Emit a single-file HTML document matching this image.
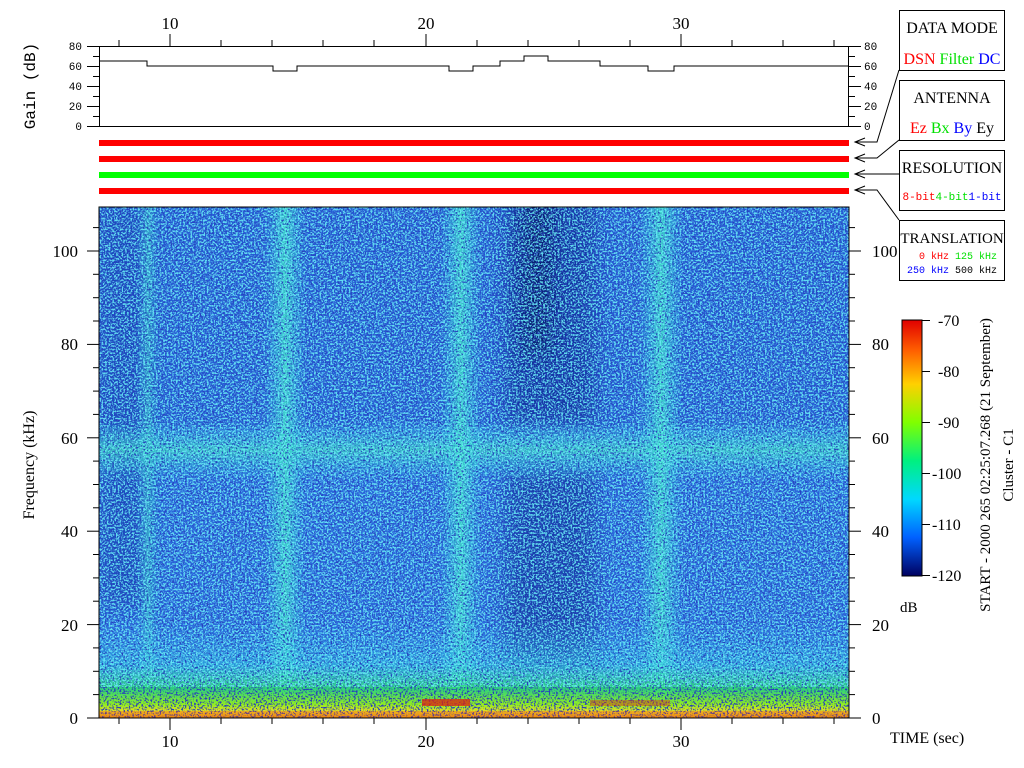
<!DOCTYPE html>
<html><head><meta charset="utf-8"><style>
html,body{margin:0;padding:0;background:#fff;width:1024px;height:768px;overflow:hidden}
svg{display:block}
text{font-family:"Liberation Serif",serif;fill:#000}
.m{font-family:"Liberation Mono",monospace}
</style></head><body>
<svg width="1024" height="768" viewBox="0 0 1024 768" xmlns="http://www.w3.org/2000/svg">
<defs>
<filter id="dk" x="0" y="0" width="100%" height="100%">
<feTurbulence type="fractalNoise" baseFrequency="0.55" numOctaves="2" seed="3"/>
<feColorMatrix type="matrix" values="0 0 0 0 0.02  0 0 0 0 0.05  0 0 0 0 0.5  6 0 0 0 -3.0"/>
</filter>
<filter id="cy" x="0" y="0" width="100%" height="100%">
<feTurbulence type="fractalNoise" baseFrequency="0.55" numOctaves="2" seed="11"/>
<feColorMatrix type="matrix" values="0 0 0 0 0.15  0 0 0 0 0.9  0 0 0 0 0.95  6 0 0 0 -2.8"/>
</filter>
<filter id="bl" x="-50%" y="-50%" width="200%" height="200%"><feGaussianBlur stdDeviation="10"/></filter>
<linearGradient id="bot" x1="0" y1="0" x2="0" y2="1">
<stop offset="0" stop-color="#30b0f0" stop-opacity="0"/>
<stop offset="0.45" stop-color="#30c8e0" stop-opacity="0.6"/>
<stop offset="0.7" stop-color="#30e070" stop-opacity="0.9"/>
<stop offset="0.86" stop-color="#90f020"/>
<stop offset="0.94" stop-color="#f0e020"/>
<stop offset="1" stop-color="#f0a010"/>
</linearGradient>
<linearGradient id="vb" x1="0" y1="0" x2="1" y2="0">
<stop offset="0" stop-color="#30d0e0" stop-opacity="0"/>
<stop offset="0.5" stop-color="#40e0c8" stop-opacity="0.9"/>
<stop offset="1" stop-color="#30d0e0" stop-opacity="0"/>
</linearGradient>
<linearGradient id="hb" x1="0" y1="0" x2="0" y2="1">
<stop offset="0" stop-color="#30d0e0" stop-opacity="0"/>
<stop offset="0.5" stop-color="#40e0c0" stop-opacity="0.75"/>
<stop offset="1" stop-color="#30d0e0" stop-opacity="0"/>
</linearGradient>
<linearGradient id="cb" x1="0" y1="0" x2="0" y2="1">
<stop offset="0" stop-color="#e00000"/>
<stop offset="0.12" stop-color="#ff6000"/>
<stop offset="0.25" stop-color="#ffd000"/>
<stop offset="0.4" stop-color="#80ff00"/>
<stop offset="0.55" stop-color="#00f080"/>
<stop offset="0.7" stop-color="#00d8ff"/>
<stop offset="0.85" stop-color="#0060ff"/>
<stop offset="1" stop-color="#000060"/>
</linearGradient>
<clipPath id="sp"><rect x="99" y="207" width="750" height="511"/></clipPath>
</defs>

<!-- spectrogram -->
<g clip-path="url(#sp)">
<rect x="99" y="207" width="750" height="511" fill="#2a66dc"/>
<rect x="99" y="207" width="50" height="400" fill="#1030a0" opacity="0.5" filter="url(#bl)"/>
<rect x="99" y="207" width="750" height="220" fill="#1a3fbf" opacity="0.25"/>
<rect x="505" y="200" width="90" height="225" fill="#001070" opacity="0.5" filter="url(#bl)"/>
<rect x="522" y="190" width="30" height="165" fill="#000850" opacity="0.65" filter="url(#bl)"/>
<rect x="505" y="470" width="90" height="200" fill="#001070" opacity="0.45" filter="url(#bl)"/>
<rect x="99" y="420" width="750" height="60" fill="url(#hb)"/>
<rect x="136" y="207" width="24" height="511" fill="url(#vb)" opacity="0.6"/>
<rect x="264" y="207" width="42" height="511" fill="url(#vb)"/>
<rect x="440" y="207" width="42" height="511" fill="url(#vb)"/>
<rect x="639" y="207" width="44" height="511" fill="url(#vb)"/>
<rect x="99" y="620" width="750" height="98" fill="url(#bot)"/>
<rect x="99" y="207" width="750" height="511" filter="url(#dk)"/>
<rect x="99" y="207" width="750" height="480" filter="url(#cy)" opacity="0.85"/>
<rect x="422" y="699" width="48" height="7" fill="#e02010" opacity="0.75"/>
<rect x="590" y="700" width="80" height="6" fill="#e03010" opacity="0.45"/>
<rect x="99" y="711" width="750" height="7" fill="#f04010" opacity="0.3"/>
</g>
<rect x="99" y="207" width="750" height="511" fill="none" stroke="#000" stroke-width="1"/>

<!-- gain panel -->
<rect x="99.5" y="46.5" width="749" height="80" fill="none" stroke="#000"/>
<polyline fill="none" stroke="#000" points="99,61 147,61 147,66 273,66 273,71 297,71 297,66 449,66 449,71 473,71 473,66 500,66 500,61 524,61 524,56 548,56 548,61 600,61 600,66 648,66 648,71 674,71 674,66 849,66"/>
<g stroke="#000">
<line x1="87" y1="46.5" x2="99" y2="46.5"/><line x1="87" y1="66.5" x2="99" y2="66.5"/><line x1="87" y1="86.5" x2="99" y2="86.5"/><line x1="87" y1="106.5" x2="99" y2="106.5"/><line x1="87" y1="126.5" x2="99" y2="126.5"/>
<line x1="93" y1="56.5" x2="99" y2="56.5"/><line x1="93" y1="76.5" x2="99" y2="76.5"/><line x1="93" y1="96.5" x2="99" y2="96.5"/><line x1="93" y1="116.5" x2="99" y2="116.5"/>
<line x1="849" y1="46.5" x2="861" y2="46.5"/><line x1="849" y1="66.5" x2="861" y2="66.5"/><line x1="849" y1="86.5" x2="861" y2="86.5"/><line x1="849" y1="106.5" x2="861" y2="106.5"/><line x1="849" y1="126.5" x2="861" y2="126.5"/>
<line x1="849" y1="56.5" x2="855" y2="56.5"/><line x1="849" y1="76.5" x2="855" y2="76.5"/><line x1="849" y1="96.5" x2="855" y2="96.5"/><line x1="849" y1="116.5" x2="855" y2="116.5"/>
</g>
<g font-size="11">
<text x="82" y="50" text-anchor="end" class="m">80</text><text x="82" y="70" text-anchor="end" class="m">60</text><text x="82" y="90" text-anchor="end" class="m">40</text><text x="82" y="110" text-anchor="end" class="m">20</text><text x="82" y="130" text-anchor="end" class="m">0</text>
<text x="864" y="50" class="m">80</text><text x="864" y="70" class="m">60</text><text x="864" y="90" class="m">40</text><text x="864" y="110" class="m">20</text><text x="864" y="130" class="m">0</text>
</g>
<text transform="translate(35,86) rotate(-90)" text-anchor="middle" font-size="16" class="m">Gain (dB)</text>

<!-- stripes -->
<rect x="99" y="140" width="750" height="6" fill="#ff0000"/>
<rect x="99" y="156" width="750" height="6" fill="#ff0000"/>
<rect x="99" y="172" width="750" height="6" fill="#00ff00"/>
<rect x="99" y="188" width="750" height="6" fill="#ff0000"/>

<!-- time ticks -->
<g stroke="#000">
<line x1="119" y1="46" x2="119" y2="40"/><line x1="170" y1="46" x2="170" y2="34"/><line x1="221" y1="46" x2="221" y2="40"/><line x1="272" y1="46" x2="272" y2="40"/><line x1="323" y1="46" x2="323" y2="40"/><line x1="374" y1="46" x2="374" y2="40"/><line x1="426" y1="46" x2="426" y2="34"/><line x1="477" y1="46" x2="477" y2="40"/><line x1="528" y1="46" x2="528" y2="40"/><line x1="579" y1="46" x2="579" y2="40"/><line x1="630" y1="46" x2="630" y2="40"/><line x1="681" y1="46" x2="681" y2="34"/><line x1="732" y1="46" x2="732" y2="40"/><line x1="783" y1="46" x2="783" y2="40"/><line x1="834" y1="46" x2="834" y2="40"/>
<line x1="119" y1="718" x2="119" y2="724"/><line x1="170" y1="718" x2="170" y2="730"/><line x1="221" y1="718" x2="221" y2="724"/><line x1="272" y1="718" x2="272" y2="724"/><line x1="323" y1="718" x2="323" y2="724"/><line x1="374" y1="718" x2="374" y2="724"/><line x1="426" y1="718" x2="426" y2="730"/><line x1="477" y1="718" x2="477" y2="724"/><line x1="528" y1="718" x2="528" y2="724"/><line x1="579" y1="718" x2="579" y2="724"/><line x1="630" y1="718" x2="630" y2="724"/><line x1="681" y1="718" x2="681" y2="730"/><line x1="732" y1="718" x2="732" y2="724"/><line x1="783" y1="718" x2="783" y2="724"/><line x1="834" y1="718" x2="834" y2="724"/>
</g>
<g font-size="17" text-anchor="middle">
<text x="170" y="29">10</text><text x="426" y="29">20</text><text x="681" y="29">30</text>
<text x="170" y="747">10</text><text x="426" y="747">20</text><text x="681" y="747">30</text>
</g>
<text x="890" y="743" font-size="16">TIME (sec)</text>

<!-- freq ticks -->
<g stroke="#000">
<line x1="87" y1="718" x2="99" y2="718"/><line x1="87" y1="624.6" x2="99" y2="624.6"/><line x1="87" y1="531.2" x2="99" y2="531.2"/><line x1="87" y1="437.8" x2="99" y2="437.8"/><line x1="87" y1="344.4" x2="99" y2="344.4"/><line x1="87" y1="251" x2="99" y2="251"/>
<line x1="93" y1="694.6" x2="99" y2="694.6"/><line x1="93" y1="671.3" x2="99" y2="671.3"/><line x1="93" y1="647.9" x2="99" y2="647.9"/><line x1="93" y1="601.2" x2="99" y2="601.2"/><line x1="93" y1="577.9" x2="99" y2="577.9"/><line x1="93" y1="554.5" x2="99" y2="554.5"/><line x1="93" y1="507.8" x2="99" y2="507.8"/><line x1="93" y1="484.5" x2="99" y2="484.5"/><line x1="93" y1="461.1" x2="99" y2="461.1"/><line x1="93" y1="414.4" x2="99" y2="414.4"/><line x1="93" y1="391.1" x2="99" y2="391.1"/><line x1="93" y1="367.7" x2="99" y2="367.7"/><line x1="93" y1="321" x2="99" y2="321"/><line x1="93" y1="297.7" x2="99" y2="297.7"/><line x1="93" y1="274.3" x2="99" y2="274.3"/><line x1="93" y1="227.6" x2="99" y2="227.6"/>
<line x1="849" y1="718" x2="861" y2="718"/><line x1="849" y1="624.6" x2="861" y2="624.6"/><line x1="849" y1="531.2" x2="861" y2="531.2"/><line x1="849" y1="437.8" x2="861" y2="437.8"/><line x1="849" y1="344.4" x2="861" y2="344.4"/><line x1="849" y1="251" x2="861" y2="251"/>
<line x1="849" y1="694.6" x2="855" y2="694.6"/><line x1="849" y1="671.3" x2="855" y2="671.3"/><line x1="849" y1="647.9" x2="855" y2="647.9"/><line x1="849" y1="601.2" x2="855" y2="601.2"/><line x1="849" y1="577.9" x2="855" y2="577.9"/><line x1="849" y1="554.5" x2="855" y2="554.5"/><line x1="849" y1="507.8" x2="855" y2="507.8"/><line x1="849" y1="484.5" x2="855" y2="484.5"/><line x1="849" y1="461.1" x2="855" y2="461.1"/><line x1="849" y1="414.4" x2="855" y2="414.4"/><line x1="849" y1="391.1" x2="855" y2="391.1"/><line x1="849" y1="367.7" x2="855" y2="367.7"/><line x1="849" y1="321" x2="855" y2="321"/><line x1="849" y1="297.7" x2="855" y2="297.7"/><line x1="849" y1="274.3" x2="855" y2="274.3"/><line x1="849" y1="227.6" x2="855" y2="227.6"/>
</g>
<g font-size="17">
<g text-anchor="end">
<text x="78" y="724">0</text><text x="78" y="631">20</text><text x="78" y="537">40</text><text x="78" y="444">60</text><text x="78" y="350">80</text><text x="78" y="257">100</text>
</g>
<text x="872" y="724">0</text><text x="872" y="631">20</text><text x="872" y="537">40</text><text x="872" y="444">60</text><text x="872" y="350">80</text><text x="872" y="257">100</text>
</g>
<text transform="translate(34,465) rotate(-90)" text-anchor="middle" font-size="16">Frequency (kHz)</text>

<!-- colorbar -->
<rect x="902" y="320" width="20" height="256" fill="url(#cb)" stroke="#000"/>
<g stroke="#000">
<line x1="922" y1="320.5" x2="930" y2="320.5"/><line x1="922" y1="371.5" x2="930" y2="371.5"/><line x1="922" y1="422.5" x2="930" y2="422.5"/><line x1="922" y1="473.5" x2="930" y2="473.5"/><line x1="922" y1="524.5" x2="930" y2="524.5"/><line x1="922" y1="575.5" x2="930" y2="575.5"/>
</g>
<g font-size="16">
<text x="938" y="326">-70</text><text x="938" y="377">-80</text><text x="938" y="428">-90</text><text x="932" y="479">-100</text><text x="932" y="530">-110</text><text x="932" y="581">-120</text>
</g>
<text x="900" y="612" font-size="15">dB</text>
<text transform="translate(990,465) rotate(-90)" text-anchor="middle" font-size="15">START - 2000 265 02:25:07.268 (21 September)</text>
<text transform="translate(1013,465) rotate(-90)" text-anchor="middle" font-size="15">Cluster - C1</text>

<!-- legend boxes -->
<g fill="none" stroke="#000">
<rect x="899.5" y="10.5" width="105" height="60"/>
<rect x="899.5" y="80.5" width="105" height="60"/>
<rect x="899.5" y="150.5" width="105" height="60"/>
<rect x="899.5" y="220.5" width="105" height="60"/>
<polyline points="899,70 877,142 855,142"/>
<polyline points="899,140 877,158 855,158"/>
<polyline points="899,174 855,174"/>
<polyline points="899,220 877,190 855,190"/>
<polyline points="865,138 855,142 865,146"/>
<polyline points="865,154 855,158 865,162"/>
<polyline points="865,170 855,174 865,178"/>
<polyline points="865,186 855,190 865,194"/>
</g>
<g font-size="16" text-anchor="middle">
<text x="952" y="33">DATA MODE</text>
<text x="952" y="103">ANTENNA</text>
<text x="952" y="173">RESOLUTION</text>
<text x="952" y="243" font-size="15">TRANSLATION</text>
</g>
<text x="952" y="64" font-size="16" text-anchor="middle"><tspan fill="#ff0000">DSN</tspan> <tspan fill="#00e000">Filter</tspan> <tspan fill="#0000ff">DC</tspan></text>
<text x="952" y="133" font-size="16" text-anchor="middle"><tspan fill="#ff0000">Ez</tspan>  <tspan fill="#00e000">Bx</tspan>  <tspan fill="#0000ff">By</tspan>  <tspan>Ey</tspan></text>
<text x="952" y="200" font-size="11" text-anchor="middle" class="m"><tspan fill="#ff0000">8-bit</tspan><tspan fill="#00e000">4-bit</tspan><tspan fill="#0000ff">1-bit</tspan></text>
<text x="997" y="259" font-size="10" text-anchor="end" class="m"><tspan fill="#ff0000">0 kHz</tspan> <tspan fill="#00e000">125 kHz</tspan></text>
<text x="997" y="273" font-size="10" text-anchor="end" class="m"><tspan fill="#0000ff">250 kHz</tspan> <tspan>500 kHz</tspan></text>
</svg>
</body></html>
